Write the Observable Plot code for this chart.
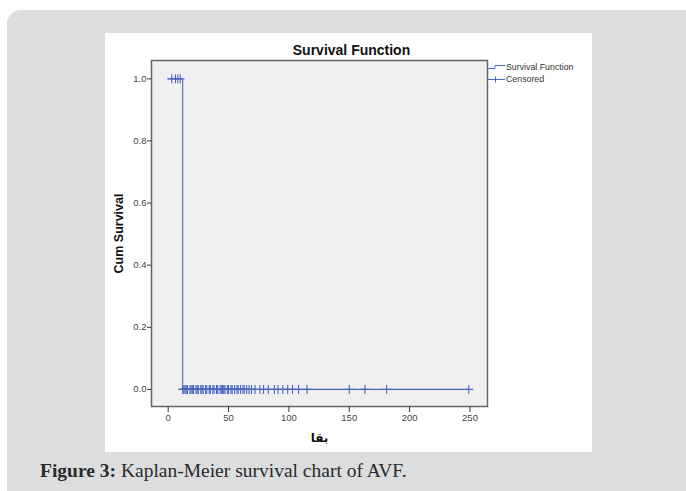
<!DOCTYPE html>
<html><head><meta charset="utf-8">
<script src="https://cdn.jsdelivr.net/npm/d3@7"></script>
<script src="https://cdn.jsdelivr.net/npm/@observablehq/plot@0.6"></script>
<style>
body{margin:0;background:#fff;width:686px;height:491px;overflow:hidden;position:relative;font-family:"Liberation Sans",Arial,sans-serif;}
#panel{position:absolute;left:7px;top:10px;width:700px;height:500px;background:#dcdddf;border-radius:14px;}
#chart{position:absolute;left:105px;top:33px;width:487px;height:419px;background:#fff;}
#chart svg{display:block;}
#legend{position:absolute;left:487px;top:61px;font-size:8.8px;color:#333;line-height:12px;}
#legend div{position:relative;padding-left:19px;height:12px;white-space:nowrap;}
#legend svg{position:absolute;left:0;top:0;}
#caption{position:absolute;left:40px;top:460px;font-family:"Liberation Serif","Times New Roman",serif;font-size:19.5px;color:#2a2a2a;white-space:nowrap;}
</style></head>
<body>
<div id="panel"></div>
<div id="chart"></div>
<div id="legend">
  <div><svg width="19" height="12"><path d="M1,7.5H8V4.5H18" fill="none" stroke="#4b66c2" stroke-width="1"/></svg>Survival Function</div>
  <div><svg width="19" height="12"><path d="M1,6.5H18M8.5,3.5V9.5" fill="none" stroke="#4b66c2" stroke-width="1"/></svg>Censored</div>
</div>
<div id="caption"><b>Figure 3:</b> Kaplan-Meier survival chart of AVF.</div>
<script>
// Survival step function
const stepTimes = [0, 12, 249];
const stepSurvival = [1, 0, 0];
// Censored cases at survival 1.0
const censoredHighTimes = [3, 6, 8, 10];
// Censored cases at survival 0.0
const censoredLowTimes = [12,13,14,15,16,18,19,20,21,23,24,25,27,28,29,31,32,34,35,37,38,40,41,43,44,45,46,47,49,50,52,53,55,57,58,60,62,63,65,67,69,72,76,79,83,88,91,95,99,103,108,115,150,163,181,249];
// Axis ticks
const xTicks = [0, 50, 100, 150, 200, 250];
const yTicks = [0, 0.2, 0.4, 0.6, 0.8, 1.0];

const stepData = stepTimes.map((t, i) => ({t, s: stepSurvival[i]}));
const censored = [
  ...censoredHighTimes.map(t => ({t, s: 1})),
  ...censoredLowTimes.map(t => ({t, s: 0}))
];
const blue = "#4b66c2";

const chart = Plot.plot({
  width: 487,
  height: 419,
  marginLeft: 46,
  marginRight: 105,
  marginTop: 27,
  marginBottom: 46,
  style: {background: "transparent", fontFamily: "'Liberation Sans', Arial, sans-serif", fontSize: "9.5px", color: "#444"},
  x: {domain: [-13.8, 264.5]},
  y: {domain: [-0.055, 1.059]},
  marks: [
    Plot.frame({fill: "#f0f0f0", stroke: "#666", strokeWidth: 1.5}),
    Plot.axisY({ticks: yTicks, tickFormat: d3.format(".1f"), tickSize: 4, tickPadding: 1, label: null, stroke: "#333"}),
    Plot.axisX({ticks: xTicks, tickSize: 6, tickPadding: 2, label: null, stroke: "#333"}),
    Plot.line(stepData, {x: "t", y: "s", curve: "step-after", stroke: blue, strokeWidth: 1.1}),
    Plot.dot(censored, {x: "t", y: "s", symbol: "plus", r: 3, stroke: blue, strokeWidth: 1.1}),
    Plot.text(["Survival Function"], {frameAnchor: "top", dx: 32, dy: -10, lineAnchor: "middle", fontWeight: "bold", fontSize: 14, fill: "#111"}),
    Plot.text(["Cum Survival"], {frameAnchor: "left", dx: -33, rotate: -90, textAnchor: "middle", fontWeight: "bold", fontSize: 12.5, fill: "#111"}),
    Plot.text(["بقا"], {frameAnchor: "bottom", dy: 32, lineAnchor: "middle", fontWeight: "bold", fontSize: 12, fill: "#111", fontFamily: "'DejaVu Sans', sans-serif"})
  ]
});
document.getElementById("chart").appendChild(chart);
</script>
</body></html>
